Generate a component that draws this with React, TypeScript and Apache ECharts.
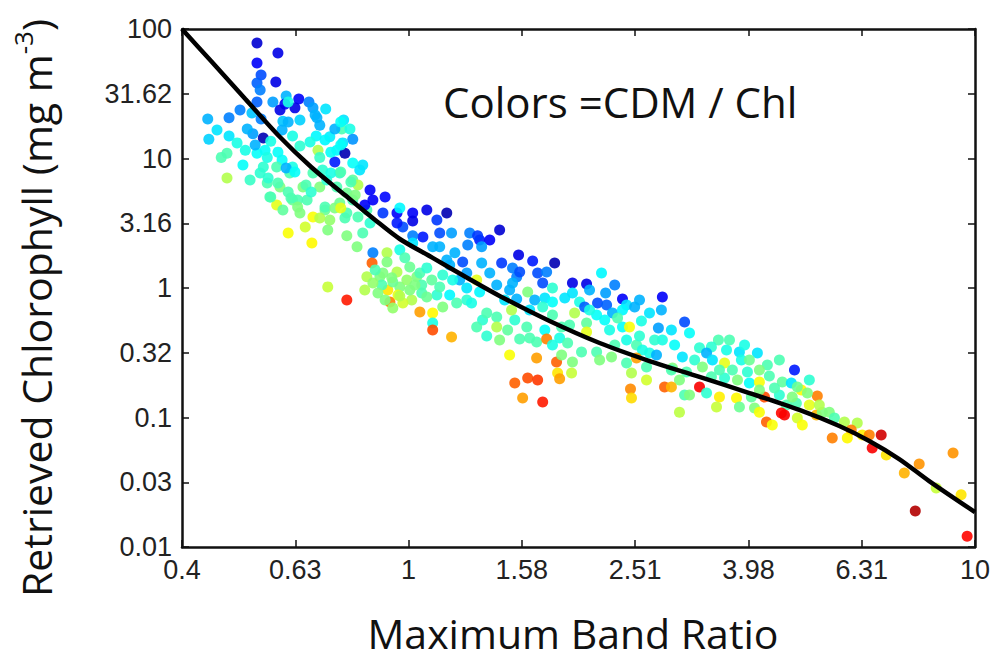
import React, { useEffect, useRef } from 'react';
import * as echarts from 'echarts';

// Tick labels (axes are logarithmic: ticks every 0.2 decade on x, 0.5 decade on y)
const xTickLabels = ['0.4', '0.63', '1', '1.58', '2.51', '3.98', '6.31', '10'];
const yTickLabels = ['0.01', '0.03', '0.1', '0.32', '1', '3.16', '10', '31.62', '100'];

// Fitted algorithm curve: band ratio -> chlorophyll (mg m-3)
const curveBandRatio = [0.398, 0.448, 0.515, 0.588, 0.673, 0.772, 0.873, 0.965, 1.103, 1.262, 1.448, 1.774, 2.174, 2.663, 3.263, 3.997, 4.897, 5.761, 6.507, 7.349, 8.301, 10.0];
const curveChl = [100, 56.6, 28.8, 15.2, 8.6, 5.22, 3.35, 2.39, 1.71, 1.216, 0.868, 0.556, 0.376, 0.273, 0.206, 0.1545, 0.1143, 0.0859, 0.0659, 0.0478, 0.0323, 0.0186];

// Match-ups: [maximum band ratio, retrieved chlorophyll, CDM/Chl colour index (0..1, jet)]
const matchups: [number, number, number][] = [
  [0.54,77.9,0.08],[0.588,65.2,0.10],[0.54,54.6,0.12],[0.549,44.1,0.2],[0.583,39.0,0.1],[0.54,38.3,0.22],[0.547,33.8,0.25],[0.608,30.4,0.3],[0.64,28.8,0.12],[0.54,27.3,0.22],
  [0.576,27.3,0.28],[0.605,26.3,0.12],[0.593,23.7,0.1],[0.63,24.6,0.1],[0.667,27.3,0.25],[0.678,24.6,0.28],[0.714,24.1,0.35],[0.689,20.6,0.3],[0.442,20.2,0.3],[0.482,20.6,0.25],
  [0.529,22.5,0.32],[0.549,20.2,0.25],[0.6,19.4,0.32],[0.768,19.8,0.35],[0.459,16.6,0.35],[0.482,14.9,0.35],[0.444,14.1,0.33],[0.531,15.5,0.28],[0.554,14.4,0.05],[0.598,16.6,0.3],
  [0.624,14.9,0.4],[0.571,13.6,0.4],[0.687,14.9,0.37],[0.726,14.7,0.36],[0.762,16.9,0.45],[0.788,16.9,0.4],[0.741,16.9,0.3],[0.797,14.1,0.27],[0.765,13.2,0.35],[0.478,11.0,0.45],
  [0.515,11.6,0.4],[0.558,11.6,0.38],[0.643,12.5,0.42],[0.692,11.6,0.55],[0.747,11.6,0.37],[0.772,11.0,0.05],[0.467,10.2,0.45],[0.478,7.07,0.55],[0.54,11.0,0.38],[0.563,10.2,0.4],
  [0.547,7.73,0.42],[0.563,6.47,0.45],[0.569,5.04,0.45],[0.585,4.37,0.6],[0.598,9.74,0.38],[0.617,7.73,0.45],[0.613,2.66,0.62],[0.651,6.02,0.5],[0.662,4.78,0.45],[0.657,2.96,0.58],
  [0.675,2.23,0.63],[0.678,3.53,0.62],[0.697,10.2,0.43],[0.72,2.81,0.5],[0.712,4.0,0.48],[0.697,6.02,0.5],[0.72,1.02,0.57],[0.778,0.808,0.85],[0.741,9.4,0.15],[0.756,7.73,0.42],
  [0.797,6.82,0.47],[0.83,8.91,0.35],[0.797,4.78,0.45],[0.814,6.24,0.55],[0.855,5.71,0.12],[0.865,4.78,0.12],[0.909,5.04,0.13],[0.901,3.79,0.18],[0.814,3.53,0.45],[0.83,2.66,0.45],
  [0.811,2.08,0.5],[0.865,1.87,0.25],[0.862,1.56,0.78],[0.916,1.87,0.55],[0.89,1.22,0.5],[0.919,0.965,0.65],[0.927,0.78,0.75],[0.965,1.02,0.5],[1.034,1.22,0.5],[0.954,3.79,0.12],
  [0.977,2.96,0.2],[1.017,3.79,0.12],[1.077,4.0,0.1],[1.06,2.48,0.15],[1.122,3.35,0.18],[1.168,3.79,0.05],[1.191,2.66,0.28],[1.135,2.66,0.2],[1.103,2.08,0.3],[1.168,1.645,0.3],
  [1.047,0.652,0.72],[1.103,0.641,0.63],[1.103,0.537,0.4],[1.231,1.153,0.3],[1.267,0.808,0.42],[1.351,0.566,0.42],[1.282,2.66,0.25],[1.335,2.35,0.15],[1.391,2.35,0.12],[1.448,2.81,0.08],
  [1.319,1.153,0.6],[0.797,9.23,0.38],[0.82,8.15,0.35],[0.965,4.15,0.37],[0.954,3.18,0.15],[1.017,3.29,0.1],[1.017,2.53,0.25],[1.324,2.53,0.18],[1.272,2.15,0.25],[1.346,2.08,0.28],
  [0.965,1.97,0.4],[1.017,2.23,0.35],[0.901,1.305,0.5],[0.954,1.33,0.55],[1.005,1.45,0.48],[1.047,1.305,0.45],[0.897,1.055,0.45],[0.938,1.113,0.48],[0.993,1.153,0.52],[1.055,1.055,0.45],
  [1.099,1.153,0.47],[0.883,0.915,0.5],[0.958,0.883,0.6],[1.013,0.808,0.55],[1.055,0.915,0.45],[1.122,0.883,0.42],[1.103,0.474,0.8],[1.191,0.419,0.7],[1.292,0.766,0.4],[1.374,0.641,0.45],
  [1.431,0.597,0.45],[1.374,0.426,0.42],[1.431,0.5,0.55],[1.496,0.474,0.47],[1.54,0.566,0.42],[1.508,0.304,0.62],[1.54,0.185,0.78],[1.135,2.08,0.3],[1.207,1.87,0.3],[1.182,1.505,0.3],
  [1.246,1.587,0.2],[1.346,1.56,0.3],[1.46,1.56,0.18],[1.526,1.428,0.25],[1.267,1.305,0.28],[1.391,1.305,0.3],[1.431,1.055,0.3],[1.267,1.0,0.35],[1.335,0.931,0.37],[1.182,0.883,0.37],
  [1.508,0.965,0.3],[1.552,1.216,0.25],[1.564,1.8,0.1],[1.216,0.766,0.45],[1.656,1.615,0.15],[1.811,1.56,0.05],[1.571,1.33,0.2],[1.69,1.305,0.2],[1.753,1.33,0.25],[1.725,1.093,0.2],
  [1.947,1.093,0.1],[2.062,1.073,0.1],[2.191,1.305,0.37],[1.526,1.093,0.3],[1.623,0.931,0.5],[1.795,1.0,0.42],[1.947,0.915,0.35],[2.228,0.915,0.28],[2.386,0.822,0.12],[2.806,0.852,0.12],
  [1.552,0.822,0.3],[1.67,0.808,0.3],[1.74,0.838,0.35],[1.795,0.78,0.38],[2.004,0.78,0.4],[2.046,0.713,0.22],[2.156,0.766,0.2],[2.237,0.739,0.22],[2.426,0.739,0.35],[2.507,0.713,0.3],
  [1.52,0.676,0.55],[1.636,0.676,0.35],[1.725,0.713,0.42],[1.795,0.619,0.45],[1.964,0.641,0.55],[2.148,0.619,0.38],[2.291,0.641,0.3],[2.386,0.676,0.37],[1.617,0.5,0.45],[1.74,0.474,0.38],
  [1.863,0.5,0.45],[2.062,0.537,0.47],[2.062,0.457,0.6],[2.264,0.474,0.4],[2.386,0.5,0.38],[2.455,0.5,0.62],[2.577,0.556,0.4],[2.761,0.491,0.28],[2.949,0.363,0.38],[1.571,0.404,0.45],
  [1.636,0.411,0.45],[1.683,0.383,0.45],[1.753,0.404,0.75],[1.848,0.411,0.4],[1.795,0.363,0.4],[1.909,0.376,0.45],[2.02,0.32,0.45],[2.148,0.32,0.45],[2.426,0.397,0.4],[2.526,0.363,0.45],
  [2.588,0.332,0.4],[2.663,0.315,0.4],[2.74,0.304,0.3],[1.683,0.288,0.72],[1.825,0.268,0.78],[1.863,0.304,0.5],[1.947,0.268,0.5],[2.282,0.293,0.5],[2.426,0.264,0.45],[2.526,0.288,0.72],
  [2.631,0.245,0.45],[2.923,0.241,0.5],[1.833,0.221,0.65],[1.94,0.221,0.57],[1.623,0.202,0.8],[1.69,0.195,0.82],[1.848,0.199,0.72],[2.475,0.221,0.55],[2.631,0.195,0.58],[2.831,0.172,0.78],
  [2.465,0.166,0.74],[2.475,0.1415,0.66],[1.59,0.1415,0.72],[1.725,0.1317,0.85],[3.071,0.546,0.2],[3.263,0.345,0.42],[3.524,0.397,0.45],[3.425,0.351,0.42],[3.358,0.315,0.3],[3.044,0.293,0.35],
  [3.199,0.278,0.42],[3.439,0.278,0.35],[3.838,0.32,0.35],[4.129,0.315,0.35],[3.869,0.278,0.4],[3.997,0.278,0.48],[4.3,0.254,0.45],[4.801,0.233,0.15],[2.911,0.233,0.45],[3.095,0.225,0.45],
  [3.613,0.264,0.6],[3.73,0.233,0.45],[3.965,0.225,0.42],[4.335,0.209,0.45],[3.008,0.195,0.5],[3.263,0.172,0.88],[3.425,0.206,0.45],[3.613,0.202,0.42],[3.808,0.195,0.5],[3.997,0.185,0.38],
  [4.163,0.188,0.62],[4.569,0.188,0.47],[4.74,0.185,0.35],[4.936,0.163,0.63],[5.268,0.1465,0.75],[5.059,0.1545,0.5],[2.911,0.172,0.7],[3.071,0.149,0.45],[3.358,0.1545,0.42],[3.539,0.144,0.64],
  [3.793,0.1415,0.63],[4.029,0.144,0.47],[4.25,0.144,0.8],[4.515,0.149,0.42],[4.646,0.125,0.45],[4.838,0.129,0.45],[5.1,0.125,0.6],[3.497,0.1205,0.57],[3.838,0.1205,0.48],[4.081,0.1185,0.5],
  [4.163,0.11,0.62],[3.008,0.11,0.56],[4.551,0.1084,0.87],[4.61,0.1046,0.88],[4.284,0.0923,0.78],[4.387,0.0875,0.62],[4.857,0.0992,0.58],[4.956,0.0875,0.62],[5.248,0.1046,0.7],[5.375,0.11,0.5],
  [5.532,0.11,0.5],[5.598,0.0695,0.75],[4.857,0.172,0.48],[5.648,0.0992,0.45],[5.882,0.0923,0.55],[6.197,0.0906,0.55],[6.047,0.0801,0.75],[5.951,0.0695,0.63],[6.323,0.0733,0.64],[6.507,0.0733,0.75],
  [6.83,0.0733,0.92],[6.585,0.0582,0.88],[6.973,0.0513,0.65],[7.503,0.0373,0.7],[7.971,0.0438,0.73],[9.148,0.0532,0.73],[8.542,0.0286,0.57],[9.452,0.0253,0.65],[7.845,0.019,0.95],[9.686,0.0121,0.87],
  [0.554,8.6,0.42],[0.585,8.6,0.45],[0.624,8.6,0.4],[0.678,7.73,0.45],[0.717,6.82,0.42],[0.747,6.02,0.45],[0.778,5.41,0.48],[0.593,6.02,0.5],[0.624,4.78,0.48],[0.6,4.0,0.47],
  [0.643,3.79,0.5],[0.756,4.53,0.48],[0.726,3.35,0.52],[0.778,3.79,0.45],[0.51,8.91,0.38],[0.525,6.82,0.43],[0.498,13.2,0.4],[0.519,16.9,0.3],[0.504,23.7,0.25],[0.643,19.8,0.33],
  [0.697,18.1,0.3],[0.844,4.0,0.45],[0.855,3.18,0.42],[0.778,2.53,0.5],[0.844,1.22,0.55],[0.865,1.093,0.52],[0.977,0.766,0.58],[0.938,0.701,0.52],[1.005,0.965,0.5],[1.077,0.852,0.48],
  [1.135,1.018,0.45],[1.196,1.153,0.4],[1.149,0.713,0.5],[1.478,0.808,0.35],[1.448,0.397,0.5],[1.319,0.5,0.45],[2.087,0.965,0.3],[2.312,1.055,0.25],[2.557,0.808,0.3],[2.663,0.641,0.35],
  [2.806,0.397,0.4],[3.133,0.449,0.38],[3.642,0.332,0.4],[3.302,0.245,0.5],[4.163,0.233,0.5],[4.426,0.169,0.45],[5.1,0.195,0.42],[4.758,0.144,0.5],[5.311,0.125,0.55],
  [0.588,11.2,0.38],[0.565,7.07,0.42],[0.588,6.47,0.45],[0.608,8.45,0.3],[0.63,7.87,0.38],[0.571,5.04,0.45],[0.613,5.51,0.45],[0.637,4.78,0.45],[0.659,6.24,0.45],[0.673,5.51,0.42],
  [0.67,13.4,0.4],[0.712,13.9,0.37],[0.729,11.2,0.38],[0.759,12.7,0.38],[0.759,19.1,0.38],[0.705,8.15,0.42],[0.729,7.73,0.4],[0.759,7.87,0.45],[0.791,6.58,0.45],[0.805,5.22,0.5],
  [0.837,4.37,0.12],[0.712,4.22,0.45],[0.741,4.15,0.5],[0.759,4.15,0.6],[0.772,3.47,0.45],[0.697,3.47,0.55],[0.637,4.22,0.5],[0.62,4.96,0.45],[0.536,12.7,0.3],[0.613,27.3,0.4],
  [0.613,19.1,0.3],[0.684,21.7,0.3],[0.916,1.59,0.5],[0.985,1.71,0.45],[0.934,1.2,0.5],[1.026,1.055,0.5],[0.965,0.868,0.55],[1.077,1.43,0.42],[1.149,1.26,0.42],[0.873,1.38,0.45],
  [0.909,0.808,0.5],[0.837,0.965,0.55],[1.887,0.838,0.35],[2.087,0.676,0.4],[2.22,0.566,0.38],[2.339,0.587,0.45],[1.924,0.518,0.45],[2.557,0.426,0.42],[2.719,0.397,0.42],[2.795,0.676,0.3],
  [2.911,0.474,0.35],[2.312,0.363,0.45],[2.174,0.278,0.5],[3.686,0.397,0.45],[3.919,0.363,0.4],[3.539,0.233,0.45],[4.515,0.278,0.45],[4.163,0.163,0.5],[3.133,0.149,0.5],
];

const jet = ['#00007F', '#0000FF', '#007FFF', '#00FFFF', '#7FFF7F', '#FFFF00', '#FF7F00', '#FF0000', '#7F0000'];

const X_MIN = -0.4, X_MAX = 1, X_STEP = 0.2;
const Y_MIN = -2, Y_MAX = 2, Y_STEP = 0.5;

const labelFont = { fontFamily: '"Liberation Sans", Arial, sans-serif', fontSize: 27, color: '#222' };
const titleFont = '"Open Sans", "Noto Sans", sans-serif';

export default function App() {
  const ref = useRef<HTMLDivElement>(null);
  useEffect(() => {
    if (!ref.current) return;
    const chart = echarts.init(ref.current, undefined, { renderer: 'svg' });
    const scatterData = matchups.map(([r, c, k]) => [Math.log10(r), Math.log10(c), k]);
    const curveData = curveBandRatio.map((r, i) => [Math.log10(r), Math.log10(curveChl[i])]);
    const axisLine = { show: true, onZero: false, lineStyle: { color: '#111', width: 2.5 } };
    const tick = { show: true, inside: true, length: 7, lineStyle: { color: '#111', width: 1.5 } };
    const xLabel = (v: number) => xTickLabels[Math.round((v - X_MIN) / X_STEP)] ?? '';
    const yLabel = (v: number) => yTickLabels[Math.round((v - Y_MIN) / Y_STEP)] ?? '';
    chart.setOption({
      animation: false,
      backgroundColor: '#fff',
      grid: { left: 182, right: 17, top: 29, bottom: 106, containLabel: false },
      xAxis: [
        { type: 'value', min: X_MIN, max: X_MAX, interval: X_STEP, position: 'bottom', axisLine, axisTick: tick,
          splitLine: { show: false }, axisLabel: { ...labelFont, margin: 9, formatter: xLabel, showMinLabel: true, showMaxLabel: true } },
        { type: 'value', min: X_MIN, max: X_MAX, interval: X_STEP, position: 'top', axisLine, axisTick: tick,
          splitLine: { show: false }, axisLabel: { show: false } },
      ],
      yAxis: [
        { type: 'value', min: Y_MIN, max: Y_MAX, interval: Y_STEP, position: 'left', axisLine, axisTick: tick,
          splitLine: { show: false }, axisLabel: { ...labelFont, margin: 10, formatter: yLabel, showMinLabel: true, showMaxLabel: true } },
        { type: 'value', min: Y_MIN, max: Y_MAX, interval: Y_STEP, position: 'right', axisLine, axisTick: tick,
          splitLine: { show: false }, axisLabel: { show: false } },
      ],
      visualMap: {
        show: false, type: 'continuous', dimension: 2, seriesIndex: 0, min: 0, max: 1,
        inRange: { color: jet },
      },
      series: [
        { type: 'scatter', data: scatterData, symbol: 'circle', symbolSize: 11, itemStyle: { opacity: 0.9 }, z: 2 },
        { type: 'line', data: curveData, smooth: 0.3, showSymbol: false, symbol: 'none',
          lineStyle: { color: '#000', width: 4.5 }, z: 3, clip: true },
      ],
      graphic: [
        { type: 'text', x: 443, y: 101, style: { text: 'Colors =CDM / Chl', fontFamily: titleFont, fontSize: 42, lineHeight: 44, fill: '#111', align: 'left', verticalAlign: 'middle' } },
        { type: 'text', x: 573, y: 633, style: { text: 'Maximum Band Ratio', fontFamily: titleFont, fontSize: 41, lineHeight: 30, fill: '#111', align: 'center', verticalAlign: 'middle' } },
        { type: 'group', x: 33, y: 308, rotation: Math.PI / 2, children: [
          { type: 'text', x: 0, y: 0, style: {
            text: '{m|Retrieved Chlorophyll (mg m}{s|-3}{m|)}',
            fill: '#111', align: 'center', verticalAlign: 'middle',
            rich: {
              m: { fontFamily: titleFont, fontSize: 41, lineHeight: 46, verticalAlign: 'bottom', fill: '#111' },
              s: { fontFamily: titleFont, fontSize: 26, lineHeight: 30, verticalAlign: 'top', fill: '#111' },
            },
          } },
        ] },
      ],
    });
    return () => chart.dispose();
  }, []);
  return <div ref={ref} style={{ position: 'absolute', left: 0, top: 0, width: 993, height: 653 }} />;
}
